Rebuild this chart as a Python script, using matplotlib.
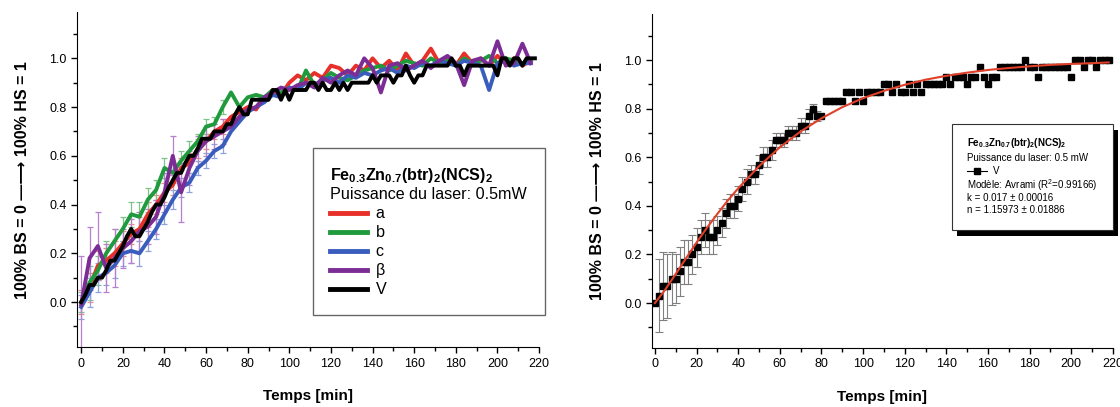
import numpy as np
import matplotlib
matplotlib.use("Agg")
import matplotlib.pyplot as plt
from matplotlib.lines import Line2D
from matplotlib.patches import Rectangle

plt.rcParams['font.family'] = ['Liberation Sans', 'DejaVu Sans']
plt.rcParams['mathtext.fontset'] = 'custom'
plt.rcParams['mathtext.rm'] = 'Liberation Sans'
plt.rcParams['mathtext.bf'] = 'Liberation Sans:bold'

# --- data -------------------------------------------------------------
# V: sampled every 2 min
t_v = list(range(0, 220, 2))
v_vals = [0.00, 0.03, 0.07, 0.07, 0.10, 0.10, 0.13, 0.17, 0.17, 0.20,
          0.23, 0.27, 0.30, 0.27, 0.27, 0.30, 0.33, 0.37, 0.40, 0.40,
          0.43, 0.47, 0.50, 0.53, 0.53, 0.57, 0.60, 0.60, 0.63, 0.67,
          0.67, 0.67, 0.70, 0.70, 0.70, 0.73, 0.73, 0.77, 0.80, 0.77,
          0.77, 0.83, 0.83, 0.83, 0.83, 0.83, 0.87, 0.87, 0.83, 0.87,
          0.83, 0.87, 0.87, 0.87, 0.87, 0.90, 0.90, 0.87, 0.90, 0.87,
          0.87, 0.90, 0.87, 0.90, 0.87, 0.90, 0.90, 0.90, 0.90, 0.90,
          0.93, 0.90, 0.93, 0.93, 0.93, 0.90, 0.93, 0.93, 0.97, 0.93,
          0.90, 0.93, 0.93, 0.97, 0.97, 0.97, 0.97, 0.97, 0.97, 1.00,
          0.97, 0.97, 0.93, 0.97, 0.97, 0.97, 0.97, 0.97, 0.97, 0.97,
          0.93, 1.00, 1.00, 0.97, 1.00, 1.00, 0.97, 1.00, 1.00, 1.00]
# error bars on the first 40 V points (0 - 78 min)
v_err = [0.00, 0.15, 0.14, 0.13, 0.11, 0.10, 0.10, 0.09, 0.09, 0.08,
         0.08, 0.07, 0.07, 0.07, 0.07, 0.06, 0.06, 0.06, 0.05, 0.05,
         0.05, 0.05, 0.05, 0.04, 0.04, 0.04, 0.04, 0.04, 0.04, 0.03,
         0.03, 0.03, 0.03, 0.03, 0.03, 0.03, 0.03, 0.03, 0.02, 0.02]

# Avrami fit curve
t_fit = [0, 5, 10, 15, 20, 25, 30, 35, 40, 50, 60, 70, 80, 90, 100, 110,
         120, 130, 140, 150, 160, 170, 180, 190, 200, 210, 218]
y_fit = [0.00, 0.056, 0.120, 0.185, 0.249, 0.310, 0.367, 0.422, 0.472,
         0.563, 0.641, 0.706, 0.760, 0.806, 0.843, 0.873, 0.898, 0.919,
         0.935, 0.948, 0.959, 0.967, 0.974, 0.980, 0.984, 0.987, 0.990]

# a, b, c, beta: sampled every 4 min
t_abc = list(range(0, 220, 4))
a_vals = [0.00, 0.06, 0.15, 0.17, 0.20, 0.24, 0.28, 0.30, 0.36, 0.40,
          0.45, 0.48, 0.55, 0.57, 0.63, 0.66, 0.70, 0.72, 0.76, 0.78,
          0.80, 0.79, 0.84, 0.86, 0.85, 0.90, 0.93, 0.91, 0.94, 0.92,
          0.97, 0.96, 0.93, 0.97, 0.95, 1.00, 0.96, 0.99, 0.95, 1.02,
          0.97, 0.99, 1.04, 0.98, 1.00, 0.97, 1.02, 0.98, 1.00, 0.97,
          1.01, 0.98, 1.00, 0.97, 0.99]
b_vals = [0.00, 0.08, 0.13, 0.20, 0.25, 0.30, 0.36, 0.35, 0.42, 0.46,
          0.55, 0.53, 0.58, 0.62, 0.66, 0.72, 0.73, 0.80, 0.86, 0.80,
          0.84, 0.85, 0.84, 0.87, 0.86, 0.88, 0.87, 0.95, 0.89, 0.91,
          0.94, 0.92, 0.91, 0.93, 0.95, 0.96, 0.97, 0.95, 0.97, 0.99,
          0.98, 0.97, 1.00, 0.98, 0.99, 0.97, 1.00, 0.98, 0.99, 1.01,
          0.98, 1.00, 0.99, 0.98, 0.99]
c_vals = [-0.02, 0.04, 0.10, 0.12, 0.15, 0.20, 0.21, 0.20, 0.25, 0.30,
          0.36, 0.42, 0.47, 0.49, 0.55, 0.58, 0.62, 0.64, 0.70, 0.74,
          0.78, 0.80, 0.82, 0.85, 0.84, 0.88, 0.87, 0.90, 0.89, 0.91,
          0.92, 0.90, 0.93, 0.92, 0.94, 0.93, 0.95, 0.96, 0.94, 0.97,
          0.96, 0.98, 0.97, 0.99, 0.98, 0.97, 0.99, 0.98, 0.97, 0.87,
          0.98, 0.99, 0.97, 0.98, 0.98]
beta_vals = [-0.01, 0.18, 0.23, 0.14, 0.18, 0.22, 0.25, 0.29, 0.31, 0.35,
             0.45, 0.60, 0.45, 0.55, 0.62, 0.66, 0.68, 0.70, 0.72, 0.76,
             0.79, 0.80, 0.84, 0.86, 0.88, 0.87, 0.89, 0.90, 0.88, 0.92,
             0.90, 0.93, 0.95, 0.93, 1.00, 0.96, 0.86, 0.97, 0.98, 0.95,
             0.97, 0.99, 0.96, 0.99, 1.01, 0.98, 0.89, 0.99, 1.00, 0.97,
             1.07, 0.97, 0.98, 1.06, 0.98]
# error bars on the first 18 points (0 - 68 min)
a_err = [0.05, 0.06, 0.06, 0.05, 0.05, 0.05, 0.04, 0.05, 0.05, 0.04,
         0.04, 0.04, 0.04, 0.04, 0.04, 0.03, 0.03, 0.03]
b_err = [0.04, 0.07, 0.06, 0.05, 0.05, 0.05, 0.05, 0.06, 0.05, 0.04,
         0.04, 0.04, 0.04, 0.04, 0.03, 0.03, 0.03, 0.03]
c_err = [0.05, 0.06, 0.06, 0.05, 0.05, 0.05, 0.05, 0.05, 0.04, 0.04,
         0.04, 0.04, 0.04, 0.04, 0.03, 0.03, 0.03, 0.03]
beta_err = [0.20, 0.13, 0.14, 0.10, 0.12, 0.08, 0.09, 0.08, 0.07, 0.07,
            0.08, 0.08, 0.12, 0.07, 0.06, 0.06, 0.05, 0.05]

series_labels = ['a', 'b', 'c', 'β', 'V']
series_colors = ['#e8302a', '#1f9a3c', '#3a5dbd', '#7b2d95', 'black']
err_colors = ['#f08a86', '#7cc48a', '#8ea2dc', '#b77fcc']

formula = r'$\mathbf{Fe_{0.3}Zn_{0.7}(btr)_{2}(NCS)_{2}}$'
ylabel = '100% BS = 0 \u2014\u27f6 100% HS = 1'


def style_axes(ax, xmin):
    ax.set_xlim(xmin, 220)
    ax.set_ylim(-0.185, 1.19)
    ax.spines['top'].set_visible(False)
    ax.spines['right'].set_visible(False)
    ax.set_xticks(range(0, 221, 20))
    ax.set_xticks(range(10, 220, 20), minor=True)
    ax.set_yticks([0.0, 0.2, 0.4, 0.6, 0.8, 1.0])
    ax.set_yticklabels(['0.0', '0.2', '0.4', '0.6', '0.8', '1.0'])
    ax.set_yticks([-0.1, 0.1, 0.3, 0.5, 0.7, 0.9, 1.1], minor=True)
    ax.tick_params(which='both', direction='out', labelsize=9, width=1)
    ax.tick_params(which='major', length=4)
    ax.tick_params(which='minor', length=3)
    ax.set_xlabel('Temps [min]', fontsize=11, fontweight='bold', labelpad=14)
    ax.set_ylabel(ylabel, fontsize=11.5, fontweight='bold', labelpad=14)


fig = plt.figure(figsize=(11.2, 4.07), dpi=100)
ax1 = fig.add_axes([0.0688, 0.147, 0.4125, 0.8235])
ax2 = fig.add_axes([0.582, 0.145, 0.4116, 0.821])

# --- left panel -------------------------------------------------------
colored = [a_vals, b_vals, c_vals, beta_vals]
errs = [a_err, b_err, c_err, beta_err]
for vals, err, ecol in zip(colored, errs, err_colors):
    n = len(err)
    ax1.errorbar(t_abc[:n], vals[:n], yerr=err, fmt='none', ecolor=ecol,
                 elinewidth=0.9, capsize=2.5, capthick=0.9, zorder=1)
handles = []
for vals, lab, col in zip(colored, series_labels[:4], series_colors[:4]):
    h, = ax1.plot(t_abc, vals, color=col, lw=2.8, label=lab, zorder=2)
    handles.append(h)
h, = ax1.plot(t_v, v_vals, color='black', lw=2.8, label='V', zorder=3)
handles.append(h)
style_axes(ax1, -2)

leg = ax1.legend(handles=handles, loc='upper left',
                 bbox_to_anchor=(0.51, 0.594),
                 title=formula + '\nPuissance du laser: 0.5mW',
                 title_fontsize=11.6, fontsize=11.6, alignment='left',
                 handlelength=2.3, handletextpad=0.5, labelspacing=0.25,
                 fancybox=False, framealpha=1, edgecolor='#666666',
                 borderpad=1.1, borderaxespad=0)
leg.get_frame().set_linewidth(1.0)
for line in leg.get_lines():
    line.set_linewidth(3.5)

# --- right panel ------------------------------------------------------
n = len(v_err)
ax2.errorbar(t_v[:n], v_vals[:n], yerr=v_err, fmt='none', ecolor='#808080',
             elinewidth=0.8, capsize=3, capthick=0.8, zorder=1)
ax2.plot(t_v, v_vals, 's', color='black', ms=4.8, zorder=2)
ax2.plot(t_fit, y_fit, color='#e0402a', lw=1.5, zorder=3)
style_axes(ax2, -1.5)

# framed note box with a small drop shadow
bx, by, bw, bh = 0.651, 0.354, 0.349, 0.316
dx, dy = 0.011, 0.018
ax2.add_patch(Rectangle((bx + dx, by - dy), bw, bh, transform=ax2.transAxes,
                        facecolor='black', edgecolor='none', clip_on=False,
                        zorder=8))
ax2.add_patch(Rectangle((bx, by), bw, bh, transform=ax2.transAxes,
                        facecolor='white', edgecolor='#333333', lw=0.8,
                        clip_on=False, zorder=9))
x0 = 0.683
note = [(0.612, formula, 'bold'),
        (0.570, 'Puissance du laser: 0.5 mW', 'normal'),
        (0.487, 'Modèle: Avrami (R$^2$=0.99166)', 'normal'),
        (0.450, 'k = 0.017 ± 0.00016', 'normal'),
        (0.413, 'n = 1.15973 ± 0.01886', 'normal')]
for y, txt, w in note:
    ax2.text(x0, y, txt, transform=ax2.transAxes, fontsize=7,
             fontweight=w, va='center', ha='left', zorder=10)
ax2.add_line(Line2D([x0, x0 + 0.045], [0.529, 0.529], transform=ax2.transAxes,
                    color='black', lw=0.8, zorder=10))
ax2.add_line(Line2D([x0 + 0.0225], [0.529], transform=ax2.transAxes,
                    color='black', marker='s', ms=4, lw=0, zorder=11))
ax2.text(x0 + 0.058, 0.529, 'V', transform=ax2.transAxes, fontsize=7,
         va='center', ha='left', zorder=10)

fig.savefig('out.png', dpi=100)
